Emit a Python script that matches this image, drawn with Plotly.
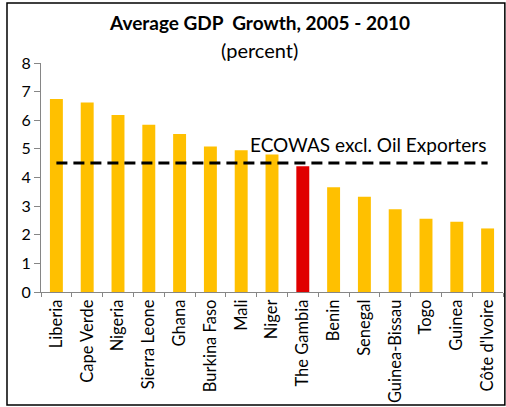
import plotly.graph_objects as go

# Average GDP growth by country, 2005-2010 (percent)
countries = ["Liberia", "Cape Verde", "Nigeria", "Sierra Leone", "Ghana",
             "Burkina Faso", "Mali", "Niger", "The Gambia", "Benin",
             "Senegal", "Guinea-Bissau", "Togo", "Guinea", "Côte d'Ivoire"]
growth = [6.74, 6.62, 6.18, 5.84, 5.52, 5.08, 4.95, 4.80, 4.39, 3.66,
          3.33, 2.89, 2.56, 2.45, 2.22]
highlight = "The Gambia"
ecowas_avg = 4.51
ecowas_label = "ECOWAS excl. Oil Exporters"
y_ticks = [0, 1, 2, 3, 4, 5, 6, 7, 8]

FONT = "Lato"
bar_colors = ["#E00000" if c == highlight else "#FFC000" for c in countries]

fig = go.Figure()
fig.add_trace(go.Bar(
    x=countries, y=growth, marker=dict(color=bar_colors, line=dict(width=0)),
    width=0.42, hoverinfo="x+y",
))
fig.add_trace(go.Scatter(
    x=countries, y=[ecowas_avg] * len(countries), mode="lines",
    line=dict(color="black", width=3, dash="11px,6px"), hoverinfo="skip",
))

fig.add_annotation(text=ecowas_label, xref="paper", yref="y", x=0.708, y=5.16,
                   xanchor="center", yanchor="middle", showarrow=False,
                   font=dict(family=FONT, size=19, color="black"))
fig.add_annotation(text="<b>Average GDP  Growth, 2005 - 2010</b>", xref="paper", yref="paper",
                   x=0.474, y=1.175, xanchor="center", yanchor="middle", showarrow=False,
                   font=dict(family=FONT, size=19, color="black"))
fig.add_annotation(text="(percent)", xref="paper", yref="paper",
                   x=0.474, y=1.055, xanchor="center", yanchor="middle", showarrow=False,
                   font=dict(family=FONT, size=20, color="black"))

# outer frame around the whole chart
fig.add_shape(type="rect", xref="paper", yref="paper",
              x0=-0.0736, x1=1.004, y0=-0.493, y1=1.262,
              line=dict(color="black", width=1.5), layer="below")

fig.update_layout(
    width=506, height=407,
    margin=dict(l=41, r=3, t=63, b=115),
    paper_bgcolor="white", plot_bgcolor="white",
    showlegend=False, bargap=0.58,
    font=dict(family=FONT, size=16, color="black"),
)
fig.update_xaxes(
    type="category", tickangle=-90, showline=True, linecolor="#868686", linewidth=1,
    ticks="outside", tickson="boundaries", ticklen=4, tickcolor="#868686",
    showgrid=False, tickfont=dict(family=FONT, size=16.5, color="black"),
    range=[-0.5, len(countries) - 0.5],
)
fig.update_yaxes(
    range=[0, 8], tickvals=y_ticks, showline=True, linecolor="#868686", linewidth=1,
    ticks="outside", ticklen=6, tickcolor="#868686", showgrid=False, zeroline=False,
    tickfont=dict(family=FONT, size=16, color="black"),
)

fig.write_html("out.html")
